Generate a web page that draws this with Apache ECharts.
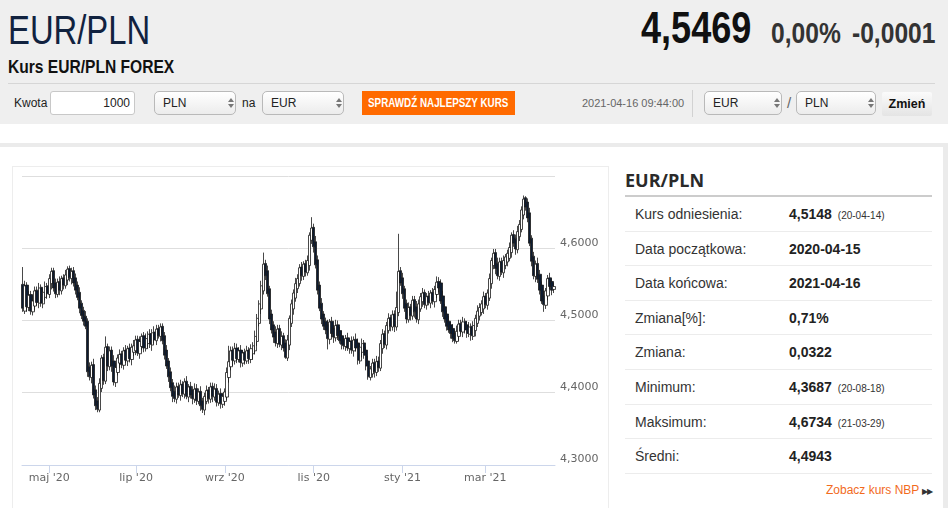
<!DOCTYPE html>
<html><head><meta charset="utf-8">
<script src="https://cdn.jsdelivr.net/npm/echarts@6/dist/echarts.min.js"></script>
<style>
html,body{margin:0;padding:0;width:948px;height:508px;overflow:hidden;background:#fff;font-family:"Liberation Sans",Arial,sans-serif;color:#333;}
.a{position:absolute;white-space:nowrap;}
.nar{font-family:"Liberation Sans",Arial,sans-serif;transform:scaleX(0.82);transform-origin:0 0;}
#hdr{position:absolute;left:0;top:0;width:948px;height:124px;background:#efefef;}
.sel{position:absolute;height:22px;border:1px solid #b9b9b9;border-radius:5px;background:linear-gradient(#ffffff,#ececec);font-size:12px;line-height:22px;color:#222;box-sizing:content-box;}
.sel span{position:absolute;left:8px;top:0;}
.arr{position:absolute;right:7px;top:6px;width:0;height:0;}
.arr:before{content:"";position:absolute;left:0;top:0;border-left:3px solid transparent;border-right:3px solid transparent;border-bottom:4px solid #777;}
.arr:after{content:"";position:absolute;left:0;top:6px;border-left:3px solid transparent;border-right:3px solid transparent;border-top:4px solid #777;}
.row{position:absolute;left:625px;width:307px;height:34.6px;border-bottom:1px solid #ececec;box-sizing:border-box;}
.row .l{position:absolute;left:10px;top:0;line-height:34px;font-size:14px;color:#333;}
.row .v{position:absolute;left:164px;top:0;line-height:34px;font-size:14px;font-weight:bold;color:#222;}
.row .d{font-size:10px;font-weight:normal;color:#333;margin-left:6px;}
</style></head>
<body>
<div id="hdr"></div>
<div class="a nar" style="left:8px;top:10px;font-size:40px;line-height:40px;color:#11223f;">EUR/PLN</div>
<div class="a nar" style="left:641px;top:6px;font-size:44px;line-height:44px;font-weight:bold;color:#111;">4,5469</div>
<div class="a nar" style="left:771px;top:18px;font-size:30px;line-height:30px;font-weight:bold;color:#333;">0,00%</div>
<div class="a nar" style="left:852px;top:18px;font-size:30px;line-height:30px;font-weight:bold;color:#333;">-0,0001</div>
<div class="a nar" style="left:8px;top:57px;font-size:19px;line-height:19px;font-weight:bold;color:#111;">Kurs EUR/PLN FOREX</div>
<div class="a" style="left:8px;top:83px;width:927px;height:1px;background:#d6d6d6;"></div>

<div class="a" style="left:14px;top:91px;line-height:24px;font-size:12px;color:#222;">Kwota</div>
<div class="a" style="left:50px;top:91px;width:83px;height:22px;border:1px solid #c8c8c8;border-radius:3px;background:#fff;font-size:12px;line-height:22px;text-align:right;color:#222;"><span style="padding-right:4px;">1000</span></div>
<div class="sel" style="left:154px;top:91px;width:80px;"><span>PLN</span><i class="arr"></i></div>
<div class="a" style="left:242px;top:91px;line-height:24px;font-size:12px;color:#222;">na</div>
<div class="sel" style="left:262px;top:91px;width:80px;"><span>EUR</span><i class="arr"></i></div>
<div class="a" style="left:362px;top:91px;width:153px;height:24px;background:#ff6a00;"></div>
<div class="a nar" style="left:368px;top:91px;color:#fff;font-size:12px;font-weight:bold;line-height:24px;">SPRAWDŹ NAJLEPSZY KURS</div>
<div class="a" style="left:582px;top:91px;line-height:24px;font-size:11px;color:#666;">2021-04-16 09:44:00</div>
<div class="a" style="left:692px;top:90px;width:1px;height:27px;background:#d2d2d2;"></div>
<div class="sel" style="left:704px;top:91px;width:76px;"><span>EUR</span><i class="arr"></i></div>
<div class="a" style="left:787px;top:91px;line-height:24px;font-size:15px;color:#666;">/</div>
<div class="sel" style="left:796px;top:91px;width:78px;"><span>PLN</span><i class="arr"></i></div>
<div class="a" style="left:882px;top:92px;width:50px;height:24px;background:linear-gradient(#fbfbfb,#e4e4e4);border-radius:2px;font-size:12.5px;font-weight:bold;line-height:24px;text-align:center;color:#111;">Zmień</div>

<div class="a" style="left:0;top:143px;width:948px;height:4px;background:#ebebeb;"></div>
<div class="a" style="left:943px;top:143px;width:5px;height:365px;background:#ebebeb;"></div>
<div class="a" style="left:12px;top:166px;width:597px;height:360px;border:1px solid #ededed;box-sizing:border-box;"></div>
<div id="chart" class="a" style="left:12px;top:166px;width:597px;height:342px;"></div>

<div class="a" style="left:625px;top:170px;font-size:18px;line-height:20px;font-weight:bold;color:#2a2a2a;font-family:'Open Sans','Liberation Sans',sans-serif;">EUR/PLN</div>
<div class="a" style="left:625px;top:195px;width:307px;height:2px;background:#cccccc;"></div>
<div id="rows"></div>
<div class="a" style="left:826px;top:482px;font-size:12px;line-height:16px;color:#f26b1d;">Zobacz kurs NBP <span style="color:#333;font-size:8px;letter-spacing:-1px;">▶▶</span></div>

<script>
// ---- data ----
const startDate = '2020-04-14';
const endDate = '2021-04-16';
const monthNames = ['sty','lut','mar','kwi','maj','cze','lip','sie','wrz','paź','lis','gru'];
const yTicks = {min: 4.3, max: 4.7, step: 0.1};
// [open, close, low, high] per trading day
const ohlc = [
[4.550,4.517,4.512,4.574],[4.513,4.548,4.509,4.555],[4.549,4.519,4.512,4.553],[4.518,4.535,4.513,4.541],
[4.536,4.513,4.508,4.541],[4.512,4.527,4.507,4.535],[4.520,4.541,4.514,4.547],[4.542,4.525,4.521,4.547],
[4.524,4.545,4.517,4.552],[4.546,4.524,4.519,4.550],[4.523,4.539,4.517,4.544],[4.532,4.547,4.528,4.554],
[4.548,4.537,4.530,4.552],[4.536,4.558,4.531,4.564],[4.551,4.568,4.543,4.573],[4.569,4.545,4.540,4.573],
[4.552,4.537,4.531,4.558],[4.536,4.553,4.532,4.558],[4.554,4.542,4.535,4.561],[4.541,4.558,4.536,4.562],
[4.559,4.549,4.543,4.564],[4.548,4.563,4.544,4.570],[4.556,4.571,4.549,4.575],[4.572,4.559,4.554,4.576],
[4.558,4.568,4.550,4.573],[4.569,4.552,4.547,4.574],[4.559,4.542,4.536,4.565],[4.549,4.532,4.528,4.554],
[4.539,4.517,4.510,4.546],[4.524,4.507,4.502,4.528],[4.514,4.499,4.493,4.519],[4.506,4.492,4.488,4.513],
[4.499,4.429,4.422,4.503],[4.436,4.422,4.417,4.442],[4.421,4.438,4.413,4.443],[4.439,4.397,4.392,4.447],
[4.404,4.382,4.376,4.410],[4.389,4.377,4.373,4.394],[4.376,4.413,4.373,4.420],[4.406,4.448,4.401,4.452],
[4.449,4.417,4.411,4.454],[4.416,4.463,4.412,4.478],[4.464,4.437,4.430,4.468],[4.436,4.458,4.431,4.464],
[4.459,4.437,4.429,4.464],[4.444,4.415,4.410,4.452],[4.414,4.435,4.408,4.441],[4.428,4.448,4.424,4.453],
[4.441,4.453,4.434,4.460],[4.454,4.439,4.434,4.458],[4.438,4.458,4.432,4.463],[4.459,4.445,4.441,4.466],
[4.444,4.461,4.437,4.465],[4.462,4.447,4.442,4.468],[4.446,4.463,4.438,4.468],[4.456,4.465,4.451,4.473],
[4.458,4.473,4.452,4.479],[4.474,4.455,4.451,4.479],[4.454,4.471,4.447,4.478],[4.464,4.478,4.459,4.482],
[4.479,4.462,4.456,4.484],[4.461,4.475,4.457,4.482],[4.468,4.481,4.461,4.485],[4.482,4.467,4.462,4.488],
[4.466,4.483,4.458,4.488],[4.484,4.473,4.468,4.492],[4.472,4.488,4.466,4.494],[4.489,4.479,4.475,4.494],
[4.478,4.491,4.471,4.496],[4.492,4.472,4.467,4.496],[4.479,4.452,4.446,4.484],[4.459,4.437,4.433,4.466],
[4.444,4.422,4.415,4.448],[4.429,4.407,4.402,4.435],[4.414,4.395,4.387,4.419],[4.402,4.392,4.387,4.410],
[4.391,4.408,4.385,4.414],[4.409,4.397,4.393,4.414],[4.396,4.411,4.389,4.418],[4.412,4.399,4.394,4.416],
[4.398,4.415,4.392,4.420],[4.416,4.395,4.391,4.423],[4.394,4.408,4.387,4.412],[4.409,4.397,4.392,4.415],
[4.404,4.392,4.384,4.409],[4.391,4.405,4.386,4.413],[4.406,4.389,4.383,4.412],[4.388,4.401,4.384,4.406],
[4.402,4.382,4.375,4.409],[4.389,4.377,4.372,4.393],[4.376,4.395,4.369,4.400],[4.388,4.403,4.384,4.410],
[4.404,4.392,4.385,4.408],[4.391,4.408,4.386,4.414],[4.409,4.395,4.387,4.414],[4.394,4.405,4.389,4.413],
[4.406,4.387,4.381,4.412],[4.386,4.398,4.382,4.403],[4.399,4.385,4.378,4.406],[4.384,4.395,4.379,4.399],
[4.388,4.401,4.382,4.406],[4.394,4.428,4.390,4.435],[4.421,4.443,4.414,4.465],[4.436,4.458,4.431,4.464],
[4.459,4.445,4.437,4.464],[4.444,4.461,4.439,4.469],[4.462,4.447,4.441,4.468],[4.446,4.458,4.442,4.463],
[4.459,4.442,4.435,4.466],[4.441,4.455,4.436,4.459],[4.456,4.445,4.439,4.461],[4.444,4.458,4.440,4.465],
[4.459,4.447,4.440,4.463],[4.446,4.461,4.441,4.467],[4.454,4.465,4.446,4.470],[4.458,4.478,4.453,4.486],
[4.471,4.503,4.465,4.509],[4.496,4.523,4.492,4.528],[4.516,4.548,4.509,4.555],[4.541,4.578,4.536,4.594],
[4.579,4.562,4.556,4.584],[4.569,4.537,4.533,4.576],[4.544,4.502,4.495,4.548],[4.509,4.487,4.482,4.515],
[4.494,4.477,4.469,4.499],[4.484,4.469,4.464,4.492],[4.468,4.488,4.462,4.494],[4.489,4.467,4.463,4.494],
[4.466,4.478,4.459,4.485],[4.479,4.462,4.457,4.483],[4.469,4.449,4.447,4.474],[4.448,4.473,4.444,4.480],
[4.466,4.503,4.459,4.507],[4.496,4.523,4.491,4.529],[4.516,4.538,4.508,4.543],[4.531,4.551,4.526,4.559],
[4.544,4.558,4.538,4.564],[4.551,4.573,4.547,4.578],[4.574,4.562,4.555,4.581],[4.561,4.578,4.556,4.582],
[4.579,4.567,4.561,4.584],[4.566,4.583,4.562,4.590],[4.576,4.618,4.569,4.622],[4.611,4.628,4.606,4.643],
[4.629,4.602,4.594,4.634],[4.609,4.577,4.572,4.617],[4.584,4.542,4.536,4.590],[4.549,4.517,4.513,4.554],
[4.524,4.502,4.495,4.531],[4.509,4.492,4.487,4.513],[4.499,4.487,4.481,4.504],[4.494,4.475,4.460,4.501],
[4.474,4.498,4.467,4.502],[4.499,4.482,4.477,4.505],[4.489,4.477,4.469,4.494],[4.476,4.493,4.471,4.501],
[4.494,4.479,4.473,4.500],[4.486,4.472,4.468,4.491],[4.479,4.467,4.460,4.486],[4.474,4.465,4.460,4.478],
[4.464,4.475,4.458,4.480],[4.476,4.462,4.458,4.483],[4.461,4.471,4.454,4.475],[4.472,4.459,4.454,4.478],
[4.458,4.473,4.450,4.478],[4.474,4.462,4.457,4.482],[4.469,4.445,4.439,4.475],[4.444,4.463,4.440,4.468],
[4.456,4.468,4.449,4.475],[4.469,4.452,4.447,4.473],[4.459,4.437,4.431,4.464],[4.444,4.422,4.418,4.451],
[4.421,4.433,4.417,4.437],[4.426,4.441,4.421,4.447],[4.442,4.429,4.421,4.447],[4.428,4.443,4.423,4.451],
[4.444,4.435,4.429,4.450],[4.434,4.468,4.430,4.473],[4.461,4.481,4.454,4.488],[4.482,4.467,4.462,4.486],
[4.466,4.493,4.460,4.498],[4.486,4.503,4.482,4.510],[4.504,4.492,4.485,4.508],[4.491,4.508,4.486,4.514],
[4.509,4.492,4.484,4.514],[4.491,4.518,4.486,4.540],[4.511,4.568,4.506,4.620],[4.569,4.552,4.548,4.574],
[4.559,4.537,4.530,4.566],[4.544,4.517,4.512,4.548],[4.524,4.502,4.496,4.529],[4.501,4.518,4.497,4.525],
[4.519,4.507,4.500,4.523],[4.506,4.528,4.501,4.534],[4.529,4.512,4.504,4.534],[4.519,4.502,4.497,4.527],
[4.501,4.523,4.495,4.529],[4.516,4.533,4.512,4.538],[4.526,4.538,4.519,4.545],[4.539,4.522,4.517,4.543],
[4.521,4.533,4.515,4.538],[4.534,4.525,4.521,4.541],[4.524,4.538,4.517,4.542],[4.539,4.527,4.522,4.545],
[4.526,4.543,4.518,4.548],[4.536,4.553,4.531,4.561],[4.554,4.545,4.539,4.560],[4.552,4.527,4.523,4.557],
[4.534,4.512,4.505,4.541],[4.519,4.502,4.497,4.523],[4.509,4.492,4.486,4.514],[4.499,4.487,4.483,4.506],
[4.494,4.482,4.475,4.498],[4.489,4.475,4.470,4.495],[4.482,4.472,4.468,4.487],[4.471,4.485,4.468,4.493],
[4.478,4.495,4.472,4.501],[4.496,4.485,4.481,4.501],[4.484,4.498,4.477,4.505],[4.499,4.487,4.482,4.503],
[4.494,4.482,4.476,4.499],[4.481,4.491,4.477,4.498],[4.492,4.479,4.472,4.496],[4.478,4.493,4.473,4.499],
[4.486,4.503,4.478,4.508],[4.496,4.513,4.491,4.521],[4.506,4.518,4.500,4.524],[4.511,4.523,4.507,4.528],
[4.516,4.533,4.509,4.540],[4.534,4.522,4.517,4.538],[4.521,4.538,4.515,4.543],[4.531,4.558,4.527,4.565],
[4.551,4.583,4.544,4.587],[4.576,4.593,4.571,4.599],[4.594,4.572,4.564,4.599],[4.579,4.562,4.557,4.587],
[4.561,4.581,4.555,4.587],[4.582,4.567,4.563,4.587],[4.566,4.583,4.559,4.590],[4.576,4.588,4.571,4.592],
[4.581,4.593,4.575,4.598],[4.586,4.601,4.582,4.608],[4.594,4.618,4.587,4.622],[4.619,4.607,4.602,4.625],
[4.614,4.599,4.591,4.619],[4.598,4.623,4.593,4.631],[4.616,4.633,4.610,4.639],[4.626,4.653,4.622,4.658],
[4.646,4.668,4.640,4.673],[4.670,4.657,4.652,4.672],[4.664,4.642,4.636,4.669],[4.649,4.607,4.603,4.656],
[4.614,4.582,4.575,4.618],[4.589,4.562,4.557,4.595],[4.561,4.578,4.553,4.583],[4.579,4.557,4.552,4.587],
[4.564,4.542,4.536,4.570],[4.549,4.527,4.523,4.554],[4.534,4.522,4.512,4.541],[4.521,4.541,4.516,4.545],
[4.534,4.558,4.528,4.563],[4.559,4.547,4.543,4.566],[4.554,4.542,4.535,4.558],[4.543,4.547,4.538,4.552]
];
// side table
const statLabels = ['Kurs odniesienia:','Data początkowa:','Data końcowa:','Zmiana[%]:','Zmiana:','Minimum:','Maksimum:','Średni:'];
const statValues = ['4,5148','2020-04-15','2021-04-16','0,71%','0,0322','4,3687','4,6734','4,4943'];
const statDates  = ['(20-04-14)','','','','','(20-08-18)','(21-03-29)',''];

// ---- side table ----
const rows = document.getElementById('rows');
statLabels.forEach((l, i) => {
  const r = document.createElement('div');
  r.className = 'row';
  r.style.top = (197 + i * 34.6) + 'px';
  r.innerHTML = '<span class="l">' + l + '</span><span class="v">' + statValues[i] +
    (statDates[i] ? '<span class="d">' + statDates[i] + '</span>' : '') + '</span>';
  rows.appendChild(r);
});

// ---- categories: trading days ----
const dates = [];
for (let d = new Date(startDate + 'T00:00:00Z'); d <= new Date(endDate + 'T00:00:00Z'); d.setUTCDate(d.getUTCDate() + 1)) {
  const w = d.getUTCDay();
  if (w !== 0 && w !== 6) dates.push(d.toISOString().slice(0, 10));
}
const isTick = (i) => {
  if (i <= 0 || i >= dates.length) return false;
  const m = +dates[i].slice(5, 7), pm = +dates[i - 1].slice(5, 7);
  return m !== pm && m % 2 === 1;
};

const chart = echarts.init(document.getElementById('chart'), null, {renderer: 'canvas'});
chart.setOption({
  animation: false,
  grid: {left: 10, right: 54, top: 10, bottom: 43},
  xAxis: {
    type: 'category',
    data: dates,
    boundaryGap: true,
    axisLine: {lineStyle: {color: '#ccd6eb', width: 1}},
    axisTick: {show: true, alignWithLabel: true, length: 8, interval: (i) => isTick(i), lineStyle: {color: '#ccd6eb'}},
    axisLabel: {
      interval: (i) => isTick(i), margin: 8, color: '#666', fontSize: 11, fontFamily: 'DejaVu Sans',
      formatter: (v) => monthNames[+v.slice(5, 7) - 1] + " '" + v.slice(2, 4)
    },
    splitLine: {show: false}
  },
  yAxis: {
    type: 'value', position: 'right', scale: false,
    min: yTicks.min, max: yTicks.max, interval: yTicks.step,
    axisLine: {show: false}, axisTick: {show: false},
    splitLine: {lineStyle: {color: '#dedede', width: 1}},
    axisLabel: {
      showMaxLabel: false, margin: 5, color: '#666', fontSize: 11, fontFamily: 'DejaVu Sans',
      verticalAlign: 'bottom',
      formatter: (v) => v.toFixed(4).replace('.', ',')
    }
  },
  series: [{
    type: 'candlestick',
    data: ohlc,
    barWidth: 2.8,
    itemStyle: {color: '#ffffff', color0: '#0c1b31', borderColor: '#1a1a1a', borderColor0: '#1a1a1a', borderWidth: 0.8}
  }]
});
</script>
</body></html>
